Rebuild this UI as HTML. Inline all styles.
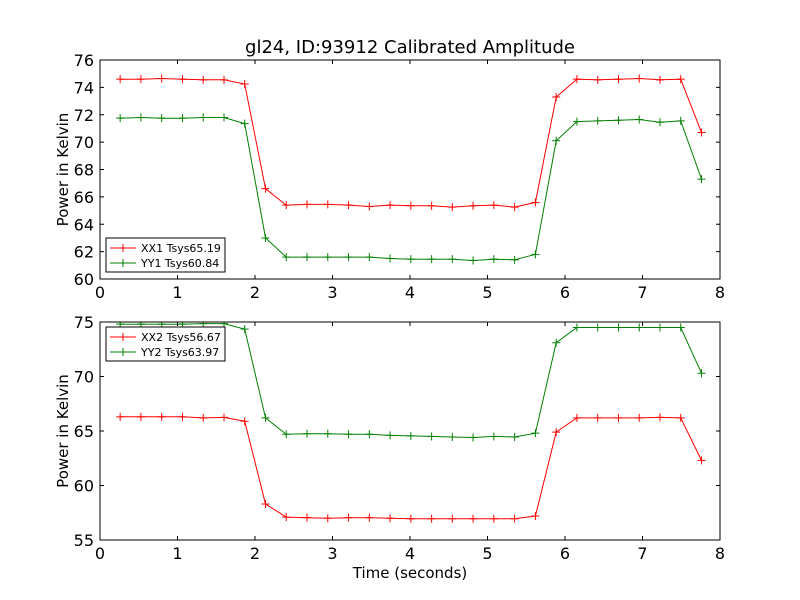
<!DOCTYPE html>
<html><head><meta charset="utf-8"><style>
body{margin:0;background:#fff;}
svg{display:block;font-family:"DejaVu Sans","Liberation Sans",sans-serif;}
</style></head><body>
<svg id="chart" width="800" height="600" xmlns="http://www.w3.org/2000/svg">
<rect width="800" height="600" fill="#fff"/>
<text x="410" y="53" font-size="18" text-anchor="middle">gl24, ID:93912 Calibrated Amplitude</text>
<text x="410" y="578" font-size="15" text-anchor="middle">Time (seconds)</text>
</svg>
<script>
const times=[];for(let i=0;i<29;i++)times.push(+(0.26+i*0.2679).toFixed(3));
const xx1=[74.6,74.6,74.65,74.6,74.55,74.55,74.25,66.6,65.4,65.45,65.45,65.4,65.3,65.4,65.35,65.35,65.25,65.35,65.4,65.25,65.6,73.3,74.6,74.55,74.6,74.65,74.55,74.6,70.7];
const yy1=[71.75,71.8,71.75,71.75,71.8,71.8,71.35,63.0,61.6,61.6,61.6,61.6,61.6,61.5,61.45,61.45,61.45,61.35,61.45,61.4,61.8,70.1,71.5,71.55,71.6,71.65,71.45,71.55,67.3];
const xx2=[66.3,66.3,66.3,66.3,66.2,66.25,65.9,58.3,57.1,57.05,57.0,57.05,57.05,57.0,56.95,56.95,56.95,56.95,56.95,56.95,57.2,64.9,66.2,66.2,66.2,66.2,66.25,66.2,62.3];
const yy2=[74.8,74.8,74.8,74.8,74.85,74.85,74.35,66.2,64.7,64.75,64.75,64.7,64.7,64.6,64.55,64.5,64.45,64.4,64.5,64.45,64.8,73.1,74.5,74.5,74.5,74.5,74.5,74.5,70.3];
const xTicks=[0,1,2,3,4,5,6,7,8];
const yTicksTop=[60,62,64,66,68,70,72,74,76];
const yTicksBot=[55,60,65,70,75];
const NS="http://www.w3.org/2000/svg";
const svg=document.getElementById('chart');
function mk(t,a,p){const e=document.createElementNS(NS,t);for(const k in a)e.setAttribute(k,a[k]);(p||svg).appendChild(e);return e;}
function panel(name,top,bot,ymin,ymax,yt,series,lg){
  const L=100,R=720;
  const g=mk('g',{});
  
  
  const sx=v=>L+(v-0)/(8-0)*(R-L);
  const sy=v=>bot-(v-ymin)/(ymax-ymin)*(bot-top);
  const cp='cp-'+name;
  const cl=mk('clipPath',{id:cp},g);mk('rect',{x:L,y:top,width:R-L,height:bot-top},cl);
  series.forEach(s=>{
    const sg=mk('g',{'clip-path':'url(#'+cp+')'},g);
    
    
    const d=s.vals.map((v,i)=>(i?'L':'M')+sx(times[i]).toFixed(1)+' '+sy(v).toFixed(1)).join(' ');
    const ln=mk('path',{d:d,fill:'none',stroke:s.color,'stroke-width':1},sg);
    
    
    s.vals.forEach((v,i)=>{
      const x=sx(times[i]),y=sy(v);
      const m=mk('path',{d:`M${x-4} ${y}H${x+4}M${x} ${y-4}V${y+4}`,stroke:s.color,'stroke-width':1},sg);
      
      
    });
  });
  mk('rect',{x:L,y:top,width:R-L,height:bot-top,fill:'none',stroke:'#000','stroke-width':1},g);
  xTicks.forEach(t=>{
    const x=sx(t);
    mk('path',{d:`M${x} ${bot}v-4M${x} ${top}v4`,stroke:'#000'},g);
    const tx=mk('text',{x:x,y:bot+19,'font-size':16,'text-anchor':'middle'},g);tx.textContent=t;
    
    
  });
  yt.forEach(t=>{
    const y=sy(t);
    mk('path',{d:`M${L} ${y}h4M${R} ${y}h-4`,stroke:'#000'},g);
    const tx=mk('text',{x:L-6,y:y+6,'font-size':16,'text-anchor':'end'},g);tx.textContent=t;
    
    
  });
  const yl=mk('text',{x:68,y:(top+bot)/2,'font-size':15,'text-anchor':'middle',transform:`rotate(-90 68 ${(top+bot)/2})`},g);
  yl.textContent='Power in Kelvin';
  
  
  const lgG=mk('g',{},g);
  
  
  mk('rect',{x:106,y:lg,width:119,height:34,fill:'#fff',stroke:'#000'},lgG);
  series.forEach((s,i)=>{
    const y=lg+10+i*15;
    const e=mk('g',{},lgG);
    
    
    mk('path',{d:`M110 ${y}H136M123 ${y-4}V${y+4}`,stroke:s.color},e);
    const t=mk('text',{x:141,y:y+4,'font-size':11},e);t.textContent=s.label;
  });
}
panel('top-panel',60,279,60,76,yTicksTop,[{name:'xx1-series',vals:xx1,color:'#ff0000',label:'XX1 Tsys65.19'},{name:'yy1-series',vals:yy1,color:'#008000',label:'YY1 Tsys60.84'}],238);
panel('bottom-panel',322,540,55,75,yTicksBot,[{name:'xx2-series',vals:xx2,color:'#ff0000',label:'XX2 Tsys56.67'},{name:'yy2-series',vals:yy2,color:'#008000',label:'YY2 Tsys63.97'}],327);
</script>
</body></html>
